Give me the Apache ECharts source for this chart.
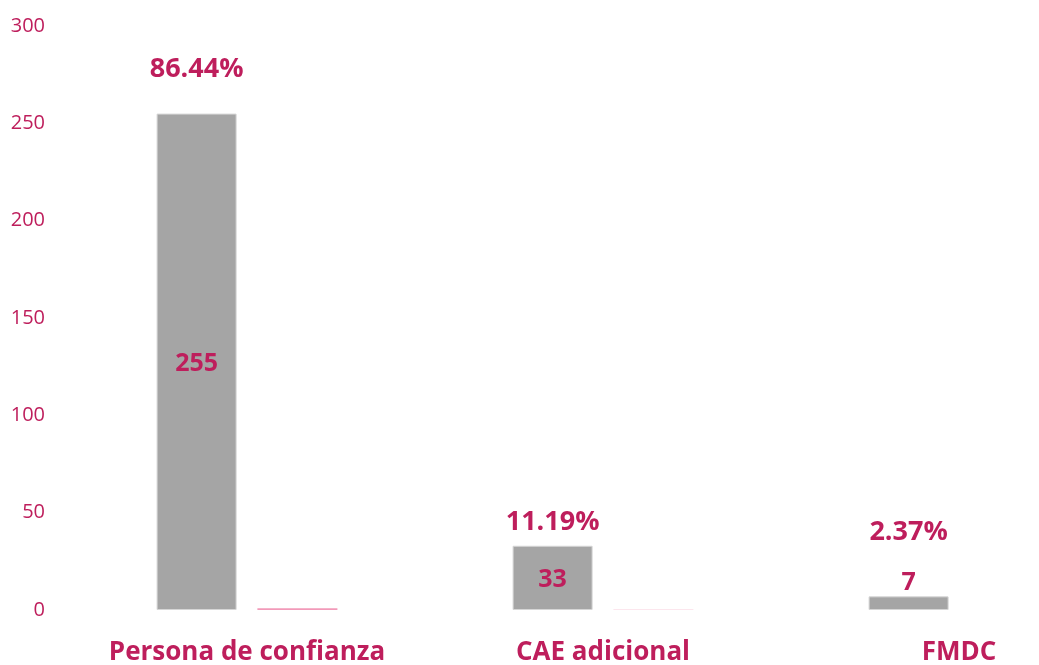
<!DOCTYPE html>
<html>
<head>
<meta charset="utf-8">
<script src="https://cdn.jsdelivr.net/npm/echarts@6/dist/echarts.min.js"></script>
<style>html,body{margin:0;padding:0;background:#fff;}#c{width:1039px;height:665px;}</style>
</head>
<body>
<div id="c"></div>
<script>
var categories = ['Persona de confianza', 'CAE adicional', 'FMDC'];
var counts = [255, 33, 7];
var shares = [0.8644, 0.1119, 0.0237];
var shareLabels = ['86.44%', '11.19%', '2.37%'];
var yTicks = [0, 50, 100, 150, 200, 250, 300];

var PINK = '#BE1E5C';
var FONT = '"Open Sans", "Noto Sans", sans-serif';
var shareLabelDistance = [29, 8, 49];
var countLabelPos = ['inside', 'inside', 'top'];

var chart = echarts.init(document.getElementById('c'), null, {renderer: 'canvas'});
chart.setOption({
  animation: false,
  grid: {left: 69, width: 1068, top: 26, bottom: 55, containLabel: false, outerBoundsMode: 'none'},
  xAxis: {
    type: 'category', data: categories,
    axisLine: {show: false}, axisTick: {show: false},
    axisLabel: {interval: 0, color: PINK, fontFamily: FONT, fontWeight: 'bold', fontSize: 26, margin: 30}
  },
  yAxis: {
    type: 'value', min: yTicks[0], max: yTicks[yTicks.length - 1], interval: 50,
    axisLine: {show: false}, axisTick: {show: false}, splitLine: {show: false},
    axisLabel: {color: PINK, fontFamily: FONT, fontSize: 20, margin: 24}
  },
  series: [
    {
      type: 'bar', stack: 'g', barWidth: 80,
      data: counts.map(function (v, i) {
        return {value: v, label: {position: countLabelPos[i], distance: 1}};
      }),
      itemStyle: {color: '#A5A5A5', borderColor: '#D6D6D6', borderWidth: 1},
      label: {show: true, color: PINK, fontFamily: FONT, fontWeight: 'bold', fontSize: 25, lineHeight: 28, offset: [0, 2]}
    },
    {
      type: 'bar', stack: 'g', barWidth: 80,
      data: counts.map(function (v, i) {
        return {value: 0, label: {distance: shareLabelDistance[i]}};
      }),
      itemStyle: {color: 'rgba(0,0,0,0)'},
      label: {show: true, position: 'top', color: PINK, fontFamily: FONT, fontWeight: 'bold', fontSize: 27, lineHeight: 30,
        formatter: function (p) { return shareLabels[p.dataIndex]; }}
    },
    {
      type: 'bar', barWidth: 80, barGap: '26%',
      data: shares,
      itemStyle: {color: '#F29AB9'}
    }
  ]
});
</script>
</body>
</html>
